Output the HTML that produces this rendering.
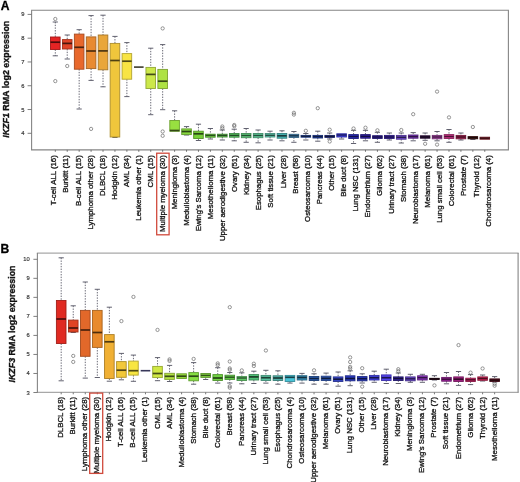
<!DOCTYPE html>
<html><head><meta charset="utf-8"><title>IKZF1 / IKZF3 expression</title>
<style>
html,body{margin:0;padding:0;background:#fff;width:520px;height:482px;overflow:hidden;}
body{font-family:"Liberation Sans", sans-serif;}
svg{display:block;filter:blur(0.45px);}
</style></head>
<body>
<svg width="520" height="482" viewBox="0 0 520 482" font-family="'Liberation Sans', sans-serif">
<rect width="520" height="482" fill="#fff"/>
<line x1="55.30" y1="22.00" x2="55.30" y2="37.00" stroke="#5a5a68" stroke-width="0.9" stroke-dasharray="1.4,1.3"/>
<line x1="52.70" y1="22.00" x2="57.90" y2="22.00" stroke="#5a5a68" stroke-width="0.95"/>
<line x1="55.30" y1="49.50" x2="55.30" y2="55.80" stroke="#5a5a68" stroke-width="0.9" stroke-dasharray="1.4,1.3"/>
<line x1="52.70" y1="55.80" x2="57.90" y2="55.80" stroke="#5a5a68" stroke-width="0.95"/>
<rect x="50.50" y="37.00" width="9.60" height="12.50" fill="#e42424" stroke="#a41919" stroke-width="0.9"/>
<line x1="50.50" y1="42.20" x2="60.10" y2="42.20" stroke="#4b0b0b" stroke-width="1.7"/>
<circle cx="55.30" cy="19.00" r="1.65" fill="none" stroke="#6a6a6a" stroke-width="0.7"/>
<circle cx="55.30" cy="81.10" r="1.65" fill="none" stroke="#6a6a6a" stroke-width="0.7"/>
<line x1="67.23" y1="35.00" x2="67.23" y2="39.60" stroke="#5a5a68" stroke-width="0.9" stroke-dasharray="1.4,1.3"/>
<line x1="64.63" y1="35.00" x2="69.83" y2="35.00" stroke="#5a5a68" stroke-width="0.95"/>
<line x1="67.23" y1="49.00" x2="67.23" y2="59.00" stroke="#5a5a68" stroke-width="0.9" stroke-dasharray="1.4,1.3"/>
<line x1="64.63" y1="59.00" x2="69.83" y2="59.00" stroke="#5a5a68" stroke-width="0.95"/>
<rect x="62.43" y="39.60" width="9.60" height="9.40" fill="#e04428" stroke="#a1301c" stroke-width="0.9"/>
<line x1="62.43" y1="43.40" x2="72.03" y2="43.40" stroke="#49160d" stroke-width="1.7"/>
<circle cx="67.23" cy="66.00" r="1.65" fill="none" stroke="#6a6a6a" stroke-width="0.7"/>
<line x1="79.16" y1="29.70" x2="79.16" y2="34.10" stroke="#5a5a68" stroke-width="0.9" stroke-dasharray="1.4,1.3"/>
<line x1="76.56" y1="29.70" x2="81.76" y2="29.70" stroke="#5a5a68" stroke-width="0.95"/>
<line x1="79.16" y1="69.20" x2="79.16" y2="109.00" stroke="#5a5a68" stroke-width="0.9" stroke-dasharray="1.4,1.3"/>
<line x1="76.56" y1="109.00" x2="81.76" y2="109.00" stroke="#5a5a68" stroke-width="0.95"/>
<rect x="74.36" y="34.10" width="9.60" height="35.10" fill="#e8682c" stroke="#a74a1f" stroke-width="0.9"/>
<line x1="74.36" y1="47.30" x2="83.96" y2="47.30" stroke="#4c220e" stroke-width="1.7"/>
<line x1="91.09" y1="15.60" x2="91.09" y2="36.90" stroke="#5a5a68" stroke-width="0.9" stroke-dasharray="1.4,1.3"/>
<line x1="88.49" y1="15.60" x2="93.69" y2="15.60" stroke="#5a5a68" stroke-width="0.95"/>
<line x1="91.09" y1="68.60" x2="91.09" y2="80.40" stroke="#5a5a68" stroke-width="0.9" stroke-dasharray="1.4,1.3"/>
<line x1="88.49" y1="80.40" x2="93.69" y2="80.40" stroke="#5a5a68" stroke-width="0.95"/>
<rect x="86.29" y="36.90" width="9.60" height="31.70" fill="#e88a32" stroke="#a76324" stroke-width="0.9"/>
<line x1="86.29" y1="51.00" x2="95.89" y2="51.00" stroke="#4c2d10" stroke-width="1.7"/>
<circle cx="91.09" cy="128.90" r="1.65" fill="none" stroke="#6a6a6a" stroke-width="0.7"/>
<line x1="103.02" y1="15.20" x2="103.02" y2="35.00" stroke="#5a5a68" stroke-width="0.9" stroke-dasharray="1.4,1.3"/>
<line x1="100.42" y1="15.20" x2="105.62" y2="15.20" stroke="#5a5a68" stroke-width="0.95"/>
<line x1="103.02" y1="69.80" x2="103.02" y2="86.80" stroke="#5a5a68" stroke-width="0.9" stroke-dasharray="1.4,1.3"/>
<line x1="100.42" y1="86.80" x2="105.62" y2="86.80" stroke="#5a5a68" stroke-width="0.95"/>
<rect x="98.22" y="35.00" width="9.60" height="34.80" fill="#e9a63a" stroke="#a77729" stroke-width="0.9"/>
<line x1="98.22" y1="50.90" x2="107.82" y2="50.90" stroke="#4c3613" stroke-width="1.7"/>
<line x1="114.95" y1="36.40" x2="114.95" y2="43.40" stroke="#5a5a68" stroke-width="0.9" stroke-dasharray="1.4,1.3"/>
<line x1="112.35" y1="36.40" x2="117.55" y2="36.40" stroke="#5a5a68" stroke-width="0.95"/>
<line x1="114.95" y1="137.00" x2="114.95" y2="137.50" stroke="#5a5a68" stroke-width="0.9" stroke-dasharray="1.4,1.3"/>
<line x1="112.35" y1="137.50" x2="117.55" y2="137.50" stroke="#5a5a68" stroke-width="0.95"/>
<rect x="110.15" y="43.40" width="9.60" height="93.60" fill="#f0c63c" stroke="#ac8e2b" stroke-width="0.9"/>
<line x1="110.15" y1="60.50" x2="119.75" y2="60.50" stroke="#4f4113" stroke-width="1.7"/>
<line x1="126.88" y1="42.60" x2="126.88" y2="53.60" stroke="#5a5a68" stroke-width="0.9" stroke-dasharray="1.4,1.3"/>
<line x1="124.28" y1="42.60" x2="129.48" y2="42.60" stroke="#5a5a68" stroke-width="0.95"/>
<line x1="126.88" y1="79.20" x2="126.88" y2="96.60" stroke="#5a5a68" stroke-width="0.9" stroke-dasharray="1.4,1.3"/>
<line x1="124.28" y1="96.60" x2="129.48" y2="96.60" stroke="#5a5a68" stroke-width="0.95"/>
<rect x="122.08" y="53.60" width="9.60" height="25.60" fill="#f8e444" stroke="#b2a430" stroke-width="0.9"/>
<line x1="122.08" y1="61.20" x2="131.68" y2="61.20" stroke="#514b16" stroke-width="1.7"/>
<line x1="134.01" y1="67.10" x2="143.61" y2="67.10" stroke="#3c3a2c" stroke-width="1.6"/>
<line x1="150.74" y1="48.20" x2="150.74" y2="67.40" stroke="#5a5a68" stroke-width="0.9" stroke-dasharray="1.4,1.3"/>
<line x1="148.14" y1="48.20" x2="153.34" y2="48.20" stroke="#5a5a68" stroke-width="0.95"/>
<line x1="150.74" y1="88.50" x2="150.74" y2="114.70" stroke="#5a5a68" stroke-width="0.9" stroke-dasharray="1.4,1.3"/>
<line x1="148.14" y1="114.70" x2="153.34" y2="114.70" stroke="#5a5a68" stroke-width="0.95"/>
<rect x="145.94" y="67.40" width="9.60" height="21.10" fill="#cce84a" stroke="#92a735" stroke-width="0.9"/>
<line x1="145.94" y1="74.40" x2="155.54" y2="74.40" stroke="#434c18" stroke-width="1.7"/>
<line x1="162.67" y1="44.60" x2="162.67" y2="69.40" stroke="#5a5a68" stroke-width="0.9" stroke-dasharray="1.4,1.3"/>
<line x1="160.07" y1="44.60" x2="165.27" y2="44.60" stroke="#5a5a68" stroke-width="0.95"/>
<line x1="162.67" y1="88.50" x2="162.67" y2="109.70" stroke="#5a5a68" stroke-width="0.9" stroke-dasharray="1.4,1.3"/>
<line x1="160.07" y1="109.70" x2="165.27" y2="109.70" stroke="#5a5a68" stroke-width="0.95"/>
<rect x="157.87" y="69.40" width="9.60" height="19.10" fill="#aee244" stroke="#7da230" stroke-width="0.9"/>
<line x1="157.87" y1="81.20" x2="167.47" y2="81.20" stroke="#394a16" stroke-width="1.7"/>
<circle cx="162.67" cy="28.40" r="1.65" fill="none" stroke="#6a6a6a" stroke-width="0.7"/>
<circle cx="162.67" cy="131.50" r="1.65" fill="none" stroke="#6a6a6a" stroke-width="0.7"/>
<circle cx="162.67" cy="135.80" r="1.65" fill="none" stroke="#6a6a6a" stroke-width="0.7"/>
<line x1="174.60" y1="110.80" x2="174.60" y2="120.50" stroke="#5a5a68" stroke-width="0.9" stroke-dasharray="1.4,1.3"/>
<line x1="172.00" y1="110.80" x2="177.20" y2="110.80" stroke="#5a5a68" stroke-width="0.95"/>
<rect x="169.80" y="120.50" width="9.60" height="10.70" fill="#98e040" stroke="#6da12e" stroke-width="0.9"/>
<line x1="169.80" y1="130.50" x2="179.40" y2="130.50" stroke="#324915" stroke-width="1.7"/>
<line x1="186.53" y1="126.60" x2="186.53" y2="128.90" stroke="#5a5a68" stroke-width="0.9" stroke-dasharray="1.4,1.3"/>
<line x1="183.93" y1="126.60" x2="189.13" y2="126.60" stroke="#5a5a68" stroke-width="0.95"/>
<line x1="186.53" y1="134.60" x2="186.53" y2="135.00" stroke="#5a5a68" stroke-width="0.9" stroke-dasharray="1.4,1.3"/>
<line x1="183.93" y1="135.00" x2="189.13" y2="135.00" stroke="#5a5a68" stroke-width="0.95"/>
<rect x="181.73" y="128.90" width="9.60" height="5.70" fill="#88d840" stroke="#619b2e" stroke-width="0.9"/>
<line x1="181.73" y1="131.50" x2="191.33" y2="131.50" stroke="#2c4715" stroke-width="1.7"/>
<line x1="198.46" y1="124.20" x2="198.46" y2="131.20" stroke="#5a5a68" stroke-width="0.9" stroke-dasharray="1.4,1.3"/>
<line x1="195.86" y1="124.20" x2="201.06" y2="124.20" stroke="#5a5a68" stroke-width="0.95"/>
<line x1="198.46" y1="138.50" x2="198.46" y2="140.50" stroke="#5a5a68" stroke-width="0.9" stroke-dasharray="1.4,1.3"/>
<line x1="195.86" y1="140.50" x2="201.06" y2="140.50" stroke="#5a5a68" stroke-width="0.95"/>
<rect x="193.66" y="131.20" width="9.60" height="7.30" fill="#78d03a" stroke="#569529" stroke-width="0.9"/>
<line x1="193.66" y1="133.80" x2="203.26" y2="133.80" stroke="#274413" stroke-width="1.7"/>
<line x1="210.39" y1="128.50" x2="210.39" y2="134.20" stroke="#5a5a68" stroke-width="0.9" stroke-dasharray="1.4,1.3"/>
<line x1="207.79" y1="128.50" x2="212.99" y2="128.50" stroke="#5a5a68" stroke-width="0.95"/>
<line x1="210.39" y1="137.20" x2="210.39" y2="139.00" stroke="#5a5a68" stroke-width="0.9" stroke-dasharray="1.4,1.3"/>
<line x1="207.79" y1="139.00" x2="212.99" y2="139.00" stroke="#5a5a68" stroke-width="0.95"/>
<rect x="205.59" y="134.20" width="9.60" height="3.00" fill="#68c842" stroke="#4a902f" stroke-width="0.9"/>
<line x1="205.59" y1="135.40" x2="215.19" y2="135.40" stroke="#29501a" stroke-width="1.35"/>
<line x1="222.32" y1="130.00" x2="222.32" y2="134.20" stroke="#5a5a68" stroke-width="0.9" stroke-dasharray="1.4,1.3"/>
<line x1="219.72" y1="130.00" x2="224.92" y2="130.00" stroke="#5a5a68" stroke-width="0.95"/>
<line x1="222.32" y1="137.00" x2="222.32" y2="140.00" stroke="#5a5a68" stroke-width="0.9" stroke-dasharray="1.4,1.3"/>
<line x1="219.72" y1="140.00" x2="224.92" y2="140.00" stroke="#5a5a68" stroke-width="0.95"/>
<rect x="217.52" y="134.20" width="9.60" height="2.80" fill="#60c050" stroke="#458a39" stroke-width="0.9"/>
<line x1="217.52" y1="135.40" x2="227.12" y2="135.40" stroke="#264c20" stroke-width="1.35"/>
<circle cx="222.32" cy="126.50" r="1.65" fill="none" stroke="#6a6a6a" stroke-width="0.7"/>
<circle cx="222.32" cy="128.20" r="1.65" fill="none" stroke="#6a6a6a" stroke-width="0.7"/>
<line x1="234.25" y1="129.20" x2="234.25" y2="133.50" stroke="#5a5a68" stroke-width="0.9" stroke-dasharray="1.4,1.3"/>
<line x1="231.65" y1="129.20" x2="236.85" y2="129.20" stroke="#5a5a68" stroke-width="0.95"/>
<line x1="234.25" y1="137.20" x2="234.25" y2="140.80" stroke="#5a5a68" stroke-width="0.9" stroke-dasharray="1.4,1.3"/>
<line x1="231.65" y1="140.80" x2="236.85" y2="140.80" stroke="#5a5a68" stroke-width="0.95"/>
<rect x="229.45" y="133.50" width="9.60" height="3.70" fill="#58c060" stroke="#3f8a45" stroke-width="0.9"/>
<line x1="229.45" y1="135.40" x2="239.05" y2="135.40" stroke="#234c26" stroke-width="1.35"/>
<circle cx="234.25" cy="125.00" r="1.65" fill="none" stroke="#6a6a6a" stroke-width="0.7"/>
<circle cx="234.25" cy="126.20" r="1.65" fill="none" stroke="#6a6a6a" stroke-width="0.7"/>
<line x1="246.18" y1="128.50" x2="246.18" y2="133.50" stroke="#5a5a68" stroke-width="0.9" stroke-dasharray="1.4,1.3"/>
<line x1="243.58" y1="128.50" x2="248.78" y2="128.50" stroke="#5a5a68" stroke-width="0.95"/>
<line x1="246.18" y1="137.70" x2="246.18" y2="142.30" stroke="#5a5a68" stroke-width="0.9" stroke-dasharray="1.4,1.3"/>
<line x1="243.58" y1="142.30" x2="248.78" y2="142.30" stroke="#5a5a68" stroke-width="0.95"/>
<rect x="241.38" y="133.50" width="9.60" height="4.20" fill="#5cc478" stroke="#428d56" stroke-width="0.9"/>
<line x1="241.38" y1="135.50" x2="250.98" y2="135.50" stroke="#244e30" stroke-width="1.35"/>
<line x1="258.11" y1="130.00" x2="258.11" y2="133.50" stroke="#5a5a68" stroke-width="0.9" stroke-dasharray="1.4,1.3"/>
<line x1="255.51" y1="130.00" x2="260.71" y2="130.00" stroke="#5a5a68" stroke-width="0.95"/>
<line x1="258.11" y1="137.70" x2="258.11" y2="142.80" stroke="#5a5a68" stroke-width="0.9" stroke-dasharray="1.4,1.3"/>
<line x1="255.51" y1="142.80" x2="260.71" y2="142.80" stroke="#5a5a68" stroke-width="0.95"/>
<rect x="253.31" y="133.50" width="9.60" height="4.20" fill="#5cc494" stroke="#428d6a" stroke-width="0.9"/>
<line x1="253.31" y1="135.50" x2="262.91" y2="135.50" stroke="#244e3b" stroke-width="1.35"/>
<line x1="270.04" y1="131.20" x2="270.04" y2="133.50" stroke="#5a5a68" stroke-width="0.9" stroke-dasharray="1.4,1.3"/>
<line x1="267.44" y1="131.20" x2="272.64" y2="131.20" stroke="#5a5a68" stroke-width="0.95"/>
<line x1="270.04" y1="137.00" x2="270.04" y2="140.00" stroke="#5a5a68" stroke-width="0.9" stroke-dasharray="1.4,1.3"/>
<line x1="267.44" y1="140.00" x2="272.64" y2="140.00" stroke="#5a5a68" stroke-width="0.95"/>
<rect x="265.24" y="133.50" width="9.60" height="3.50" fill="#5cc4aa" stroke="#428d7a" stroke-width="0.9"/>
<line x1="265.24" y1="135.30" x2="274.84" y2="135.30" stroke="#244e44" stroke-width="1.35"/>
<line x1="281.97" y1="130.80" x2="281.97" y2="133.50" stroke="#5a5a68" stroke-width="0.9" stroke-dasharray="1.4,1.3"/>
<line x1="279.37" y1="130.80" x2="284.57" y2="130.80" stroke="#5a5a68" stroke-width="0.95"/>
<line x1="281.97" y1="138.20" x2="281.97" y2="140.80" stroke="#5a5a68" stroke-width="0.9" stroke-dasharray="1.4,1.3"/>
<line x1="279.37" y1="140.80" x2="284.57" y2="140.80" stroke="#5a5a68" stroke-width="0.95"/>
<rect x="277.17" y="133.50" width="9.60" height="4.70" fill="#48b4b4" stroke="#338181" stroke-width="0.9"/>
<line x1="277.17" y1="135.80" x2="286.77" y2="135.80" stroke="#173b3b" stroke-width="1.7"/>
<line x1="293.90" y1="131.50" x2="293.90" y2="134.30" stroke="#5a5a68" stroke-width="0.9" stroke-dasharray="1.4,1.3"/>
<line x1="291.30" y1="131.50" x2="296.50" y2="131.50" stroke="#5a5a68" stroke-width="0.95"/>
<line x1="293.90" y1="137.40" x2="293.90" y2="142.30" stroke="#5a5a68" stroke-width="0.9" stroke-dasharray="1.4,1.3"/>
<line x1="291.30" y1="142.30" x2="296.50" y2="142.30" stroke="#5a5a68" stroke-width="0.95"/>
<rect x="289.10" y="134.30" width="9.60" height="3.10" fill="#4080b0" stroke="#2e5c7e" stroke-width="0.9"/>
<line x1="289.10" y1="135.80" x2="298.70" y2="135.80" stroke="#193346" stroke-width="1.35"/>
<circle cx="293.90" cy="112.80" r="1.65" fill="none" stroke="#6a6a6a" stroke-width="0.7"/>
<circle cx="293.90" cy="114.60" r="1.65" fill="none" stroke="#6a6a6a" stroke-width="0.7"/>
<line x1="305.83" y1="133.50" x2="305.83" y2="135.40" stroke="#5a5a68" stroke-width="0.9" stroke-dasharray="1.4,1.3"/>
<line x1="303.23" y1="133.50" x2="308.43" y2="133.50" stroke="#5a5a68" stroke-width="0.95"/>
<line x1="305.83" y1="137.20" x2="305.83" y2="140.00" stroke="#5a5a68" stroke-width="0.9" stroke-dasharray="1.4,1.3"/>
<line x1="303.23" y1="140.00" x2="308.43" y2="140.00" stroke="#5a5a68" stroke-width="0.95"/>
<rect x="301.03" y="135.40" width="9.60" height="1.80" fill="#2c50b0" stroke="#1f397e" stroke-width="0.9"/>
<line x1="301.03" y1="136.30" x2="310.63" y2="136.30" stroke="#112046" stroke-width="1.35"/>
<circle cx="305.83" cy="130.80" r="1.65" fill="none" stroke="#6a6a6a" stroke-width="0.7"/>
<line x1="317.76" y1="131.20" x2="317.76" y2="135.40" stroke="#5a5a68" stroke-width="0.9" stroke-dasharray="1.4,1.3"/>
<line x1="315.16" y1="131.20" x2="320.36" y2="131.20" stroke="#5a5a68" stroke-width="0.95"/>
<line x1="317.76" y1="138.00" x2="317.76" y2="141.20" stroke="#5a5a68" stroke-width="0.9" stroke-dasharray="1.4,1.3"/>
<line x1="315.16" y1="141.20" x2="320.36" y2="141.20" stroke="#5a5a68" stroke-width="0.95"/>
<rect x="312.96" y="135.40" width="9.60" height="2.60" fill="#2444a8" stroke="#193078" stroke-width="0.9"/>
<line x1="312.96" y1="136.60" x2="322.56" y2="136.60" stroke="#0e1b43" stroke-width="1.35"/>
<circle cx="317.76" cy="108.20" r="1.65" fill="none" stroke="#6a6a6a" stroke-width="0.7"/>
<line x1="329.69" y1="133.00" x2="329.69" y2="135.40" stroke="#5a5a68" stroke-width="0.9" stroke-dasharray="1.4,1.3"/>
<line x1="327.09" y1="133.00" x2="332.29" y2="133.00" stroke="#5a5a68" stroke-width="0.95"/>
<line x1="329.69" y1="137.40" x2="329.69" y2="139.00" stroke="#5a5a68" stroke-width="0.9" stroke-dasharray="1.4,1.3"/>
<line x1="327.09" y1="139.00" x2="332.29" y2="139.00" stroke="#5a5a68" stroke-width="0.95"/>
<rect x="324.89" y="135.40" width="9.60" height="2.00" fill="#263498" stroke="#1b256d" stroke-width="0.9"/>
<line x1="324.89" y1="136.40" x2="334.49" y2="136.40" stroke="#0f143c" stroke-width="1.35"/>
<circle cx="329.69" cy="129.70" r="1.65" fill="none" stroke="#6a6a6a" stroke-width="0.7"/>
<circle cx="329.69" cy="141.50" r="1.65" fill="none" stroke="#6a6a6a" stroke-width="0.7"/>
<line x1="341.62" y1="137.00" x2="341.62" y2="139.00" stroke="#5a5a68" stroke-width="0.9" stroke-dasharray="1.4,1.3"/>
<line x1="339.02" y1="139.00" x2="344.22" y2="139.00" stroke="#5a5a68" stroke-width="0.95"/>
<rect x="336.82" y="133.80" width="9.60" height="3.20" fill="#4040e0" stroke="#2e2ea1" stroke-width="0.9"/>
<line x1="336.82" y1="135.00" x2="346.42" y2="135.00" stroke="#191959" stroke-width="1.35"/>
<line x1="353.55" y1="130.30" x2="353.55" y2="134.60" stroke="#5a5a68" stroke-width="0.9" stroke-dasharray="1.4,1.3"/>
<line x1="350.95" y1="130.30" x2="356.15" y2="130.30" stroke="#5a5a68" stroke-width="0.95"/>
<line x1="353.55" y1="138.50" x2="353.55" y2="143.50" stroke="#5a5a68" stroke-width="0.9" stroke-dasharray="1.4,1.3"/>
<line x1="350.95" y1="143.50" x2="356.15" y2="143.50" stroke="#5a5a68" stroke-width="0.95"/>
<rect x="348.75" y="134.60" width="9.60" height="3.90" fill="#2a2ab4" stroke="#1e1e81" stroke-width="0.9"/>
<line x1="348.75" y1="136.50" x2="358.35" y2="136.50" stroke="#101048" stroke-width="1.35"/>
<circle cx="353.55" cy="128.50" r="1.65" fill="none" stroke="#6a6a6a" stroke-width="0.7"/>
<line x1="365.48" y1="130.30" x2="365.48" y2="134.60" stroke="#5a5a68" stroke-width="0.9" stroke-dasharray="1.4,1.3"/>
<line x1="362.88" y1="130.30" x2="368.08" y2="130.30" stroke="#5a5a68" stroke-width="0.95"/>
<line x1="365.48" y1="138.20" x2="365.48" y2="140.80" stroke="#5a5a68" stroke-width="0.9" stroke-dasharray="1.4,1.3"/>
<line x1="362.88" y1="140.80" x2="368.08" y2="140.80" stroke="#5a5a68" stroke-width="0.95"/>
<rect x="360.68" y="134.60" width="9.60" height="3.60" fill="#3222a4" stroke="#241876" stroke-width="0.9"/>
<line x1="360.68" y1="136.40" x2="370.28" y2="136.40" stroke="#140d41" stroke-width="1.35"/>
<circle cx="365.48" cy="127.70" r="1.65" fill="none" stroke="#6a6a6a" stroke-width="0.7"/>
<line x1="377.41" y1="132.30" x2="377.41" y2="135.70" stroke="#5a5a68" stroke-width="0.9" stroke-dasharray="1.4,1.3"/>
<line x1="374.81" y1="132.30" x2="380.01" y2="132.30" stroke="#5a5a68" stroke-width="0.95"/>
<line x1="377.41" y1="138.50" x2="377.41" y2="142.30" stroke="#5a5a68" stroke-width="0.9" stroke-dasharray="1.4,1.3"/>
<line x1="374.81" y1="142.30" x2="380.01" y2="142.30" stroke="#5a5a68" stroke-width="0.95"/>
<rect x="372.61" y="135.70" width="9.60" height="2.80" fill="#3222a0" stroke="#241873" stroke-width="0.9"/>
<line x1="372.61" y1="137.00" x2="382.21" y2="137.00" stroke="#140d40" stroke-width="1.35"/>
<circle cx="377.41" cy="130.30" r="1.65" fill="none" stroke="#6a6a6a" stroke-width="0.7"/>
<line x1="389.34" y1="133.00" x2="389.34" y2="135.40" stroke="#5a5a68" stroke-width="0.9" stroke-dasharray="1.4,1.3"/>
<line x1="386.74" y1="133.00" x2="391.94" y2="133.00" stroke="#5a5a68" stroke-width="0.95"/>
<line x1="389.34" y1="138.50" x2="389.34" y2="140.00" stroke="#5a5a68" stroke-width="0.9" stroke-dasharray="1.4,1.3"/>
<line x1="386.74" y1="140.00" x2="391.94" y2="140.00" stroke="#5a5a68" stroke-width="0.95"/>
<rect x="384.54" y="135.40" width="9.60" height="3.10" fill="#3a24a8" stroke="#291978" stroke-width="0.9"/>
<line x1="384.54" y1="137.00" x2="394.14" y2="137.00" stroke="#170e43" stroke-width="1.35"/>
<line x1="401.27" y1="133.00" x2="401.27" y2="135.40" stroke="#5a5a68" stroke-width="0.9" stroke-dasharray="1.4,1.3"/>
<line x1="398.67" y1="133.00" x2="403.87" y2="133.00" stroke="#5a5a68" stroke-width="0.95"/>
<line x1="401.27" y1="139.20" x2="401.27" y2="143.00" stroke="#5a5a68" stroke-width="0.9" stroke-dasharray="1.4,1.3"/>
<line x1="398.67" y1="143.00" x2="403.87" y2="143.00" stroke="#5a5a68" stroke-width="0.95"/>
<rect x="396.47" y="135.40" width="9.60" height="3.80" fill="#6a46c6" stroke="#4c328e" stroke-width="0.9"/>
<line x1="396.47" y1="137.30" x2="406.07" y2="137.30" stroke="#2a1c4f" stroke-width="1.35"/>
<circle cx="401.27" cy="130.00" r="1.65" fill="none" stroke="#6a6a6a" stroke-width="0.7"/>
<line x1="413.20" y1="132.60" x2="413.20" y2="135.00" stroke="#5a5a68" stroke-width="0.9" stroke-dasharray="1.4,1.3"/>
<line x1="410.60" y1="132.60" x2="415.80" y2="132.60" stroke="#5a5a68" stroke-width="0.95"/>
<line x1="413.20" y1="138.20" x2="413.20" y2="140.80" stroke="#5a5a68" stroke-width="0.9" stroke-dasharray="1.4,1.3"/>
<line x1="410.60" y1="140.80" x2="415.80" y2="140.80" stroke="#5a5a68" stroke-width="0.95"/>
<rect x="408.40" y="135.00" width="9.60" height="3.20" fill="#7432b0" stroke="#53247e" stroke-width="0.9"/>
<line x1="408.40" y1="136.60" x2="418.00" y2="136.60" stroke="#2e1446" stroke-width="1.35"/>
<circle cx="413.20" cy="114.20" r="1.65" fill="none" stroke="#6a6a6a" stroke-width="0.7"/>
<line x1="425.13" y1="133.00" x2="425.13" y2="135.80" stroke="#5a5a68" stroke-width="0.9" stroke-dasharray="1.4,1.3"/>
<line x1="422.53" y1="133.00" x2="427.73" y2="133.00" stroke="#5a5a68" stroke-width="0.95"/>
<line x1="425.13" y1="138.20" x2="425.13" y2="140.30" stroke="#5a5a68" stroke-width="0.9" stroke-dasharray="1.4,1.3"/>
<line x1="422.53" y1="140.30" x2="427.73" y2="140.30" stroke="#5a5a68" stroke-width="0.95"/>
<rect x="420.33" y="135.80" width="9.60" height="2.40" fill="#341244" stroke="#250c30" stroke-width="0.9"/>
<line x1="420.33" y1="137.00" x2="429.93" y2="137.00" stroke="#14071b" stroke-width="1.35"/>
<circle cx="425.13" cy="143.80" r="1.65" fill="none" stroke="#6a6a6a" stroke-width="0.7"/>
<line x1="437.06" y1="131.50" x2="437.06" y2="135.40" stroke="#5a5a68" stroke-width="0.9" stroke-dasharray="1.4,1.3"/>
<line x1="434.46" y1="131.50" x2="439.66" y2="131.50" stroke="#5a5a68" stroke-width="0.95"/>
<line x1="437.06" y1="138.80" x2="437.06" y2="140.80" stroke="#5a5a68" stroke-width="0.9" stroke-dasharray="1.4,1.3"/>
<line x1="434.46" y1="140.80" x2="439.66" y2="140.80" stroke="#5a5a68" stroke-width="0.95"/>
<rect x="432.26" y="135.40" width="9.60" height="3.40" fill="#a040a0" stroke="#732e73" stroke-width="0.9"/>
<line x1="432.26" y1="137.00" x2="441.86" y2="137.00" stroke="#401940" stroke-width="1.35"/>
<circle cx="437.06" cy="91.60" r="1.65" fill="none" stroke="#6a6a6a" stroke-width="0.7"/>
<circle cx="437.06" cy="144.60" r="1.65" fill="none" stroke="#6a6a6a" stroke-width="0.7"/>
<line x1="448.99" y1="129.50" x2="448.99" y2="134.60" stroke="#5a5a68" stroke-width="0.9" stroke-dasharray="1.4,1.3"/>
<line x1="446.39" y1="129.50" x2="451.59" y2="129.50" stroke="#5a5a68" stroke-width="0.95"/>
<line x1="448.99" y1="138.50" x2="448.99" y2="142.30" stroke="#5a5a68" stroke-width="0.9" stroke-dasharray="1.4,1.3"/>
<line x1="446.39" y1="142.30" x2="451.59" y2="142.30" stroke="#5a5a68" stroke-width="0.95"/>
<rect x="444.19" y="134.60" width="9.60" height="3.90" fill="#c03080" stroke="#8a225c" stroke-width="0.9"/>
<line x1="444.19" y1="136.50" x2="453.79" y2="136.50" stroke="#4c1333" stroke-width="1.35"/>
<circle cx="448.99" cy="117.40" r="1.65" fill="none" stroke="#6a6a6a" stroke-width="0.7"/>
<line x1="460.92" y1="133.00" x2="460.92" y2="135.40" stroke="#5a5a68" stroke-width="0.9" stroke-dasharray="1.4,1.3"/>
<line x1="458.32" y1="133.00" x2="463.52" y2="133.00" stroke="#5a5a68" stroke-width="0.95"/>
<line x1="460.92" y1="138.80" x2="460.92" y2="140.00" stroke="#5a5a68" stroke-width="0.9" stroke-dasharray="1.4,1.3"/>
<line x1="458.32" y1="140.00" x2="463.52" y2="140.00" stroke="#5a5a68" stroke-width="0.95"/>
<rect x="456.12" y="135.40" width="9.60" height="3.40" fill="#a02050" stroke="#731739" stroke-width="0.9"/>
<line x1="456.12" y1="137.00" x2="465.72" y2="137.00" stroke="#400c20" stroke-width="1.35"/>
<line x1="472.85" y1="138.80" x2="472.85" y2="139.50" stroke="#5a5a68" stroke-width="0.9" stroke-dasharray="1.4,1.3"/>
<line x1="470.25" y1="139.50" x2="475.45" y2="139.50" stroke="#5a5a68" stroke-width="0.95"/>
<rect x="468.05" y="136.60" width="9.60" height="2.20" fill="#441212" stroke="#300c0c" stroke-width="0.9"/>
<line x1="468.05" y1="137.70" x2="477.65" y2="137.70" stroke="#1b0707" stroke-width="1.35"/>
<circle cx="472.85" cy="127.00" r="1.65" fill="none" stroke="#6a6a6a" stroke-width="0.7"/>
<rect x="479.98" y="137.20" width="9.60" height="2.00" fill="#8c2430" stroke="#641922" stroke-width="0.9"/>
<line x1="479.98" y1="138.20" x2="489.58" y2="138.20" stroke="#380e13" stroke-width="1.35"/>
<line x1="31.05" y1="10.2" x2="508.95" y2="10.2" stroke="#858585" stroke-width="1.1"/>
<line x1="31.05" y1="149.9" x2="508.95" y2="149.9" stroke="#858585" stroke-width="1.1"/>
<line x1="31.6" y1="10.2" x2="31.6" y2="149.9" stroke="#858585" stroke-width="1.1"/>
<line x1="508.4" y1="10.2" x2="508.4" y2="149.9" stroke="#858585" stroke-width="1.1"/>
<line x1="27.60" y1="133.30" x2="31.60" y2="133.30" stroke="#707070" stroke-width="0.9"/>
<text x="24.60" y="133.30" font-size="5.8" text-anchor="end" dominant-baseline="central" fill="#333" stroke="#333" stroke-width="0.15">4</text>
<line x1="27.60" y1="109.52" x2="31.60" y2="109.52" stroke="#707070" stroke-width="0.9"/>
<text x="24.60" y="109.52" font-size="5.8" text-anchor="end" dominant-baseline="central" fill="#333" stroke="#333" stroke-width="0.15">5</text>
<line x1="27.60" y1="85.74" x2="31.60" y2="85.74" stroke="#707070" stroke-width="0.9"/>
<text x="24.60" y="85.74" font-size="5.8" text-anchor="end" dominant-baseline="central" fill="#333" stroke="#333" stroke-width="0.15">6</text>
<line x1="27.60" y1="61.96" x2="31.60" y2="61.96" stroke="#707070" stroke-width="0.9"/>
<text x="24.60" y="61.96" font-size="5.8" text-anchor="end" dominant-baseline="central" fill="#333" stroke="#333" stroke-width="0.15">7</text>
<line x1="27.60" y1="38.18" x2="31.60" y2="38.18" stroke="#707070" stroke-width="0.9"/>
<text x="24.60" y="38.18" font-size="5.8" text-anchor="end" dominant-baseline="central" fill="#333" stroke="#333" stroke-width="0.15">8</text>
<line x1="27.60" y1="14.40" x2="31.60" y2="14.40" stroke="#707070" stroke-width="0.9"/>
<text x="24.60" y="14.40" font-size="5.8" text-anchor="end" dominant-baseline="central" fill="#333" stroke="#333" stroke-width="0.15">9</text>
<line x1="55.30" y1="149.90" x2="55.30" y2="151.80" stroke="#666" stroke-width="0.9"/>
<text transform="translate(53.90,155.20) rotate(-90)" font-size="7.8" text-anchor="end" dominant-baseline="central" fill="#111" stroke="#111" stroke-width="0.3">T-cell ALL (16)</text>
<line x1="67.23" y1="149.90" x2="67.23" y2="151.80" stroke="#666" stroke-width="0.9"/>
<text transform="translate(65.96,155.20) rotate(-90)" font-size="7.8" text-anchor="end" dominant-baseline="central" fill="#111" stroke="#111" stroke-width="0.3">Burkitt (11)</text>
<line x1="79.16" y1="149.90" x2="79.16" y2="151.80" stroke="#666" stroke-width="0.9"/>
<text transform="translate(78.02,155.20) rotate(-90)" font-size="7.8" text-anchor="end" dominant-baseline="central" fill="#111" stroke="#111" stroke-width="0.3">B-cell ALL (15)</text>
<line x1="91.09" y1="149.90" x2="91.09" y2="151.80" stroke="#666" stroke-width="0.9"/>
<text transform="translate(90.08,155.20) rotate(-90)" font-size="7.8" text-anchor="end" dominant-baseline="central" fill="#111" stroke="#111" stroke-width="0.3">Lymphoma other (28)</text>
<line x1="103.02" y1="149.90" x2="103.02" y2="151.80" stroke="#666" stroke-width="0.9"/>
<text transform="translate(102.14,155.20) rotate(-90)" font-size="7.8" text-anchor="end" dominant-baseline="central" fill="#111" stroke="#111" stroke-width="0.3">DLBCL (18)</text>
<line x1="114.95" y1="149.90" x2="114.95" y2="151.80" stroke="#666" stroke-width="0.9"/>
<text transform="translate(114.20,155.20) rotate(-90)" font-size="7.8" text-anchor="end" dominant-baseline="central" fill="#111" stroke="#111" stroke-width="0.3">Hodgkin (12)</text>
<line x1="126.88" y1="149.90" x2="126.88" y2="151.80" stroke="#666" stroke-width="0.9"/>
<text transform="translate(126.26,155.20) rotate(-90)" font-size="7.8" text-anchor="end" dominant-baseline="central" fill="#111" stroke="#111" stroke-width="0.3">AML (34)</text>
<line x1="138.81" y1="149.90" x2="138.81" y2="151.80" stroke="#666" stroke-width="0.9"/>
<text transform="translate(138.32,155.20) rotate(-90)" font-size="7.8" text-anchor="end" dominant-baseline="central" fill="#111" stroke="#111" stroke-width="0.3">Leukemia other (1)</text>
<line x1="150.74" y1="149.90" x2="150.74" y2="151.80" stroke="#666" stroke-width="0.9"/>
<text transform="translate(150.38,155.20) rotate(-90)" font-size="7.8" text-anchor="end" dominant-baseline="central" fill="#111" stroke="#111" stroke-width="0.3">CML (15)</text>
<line x1="162.67" y1="149.90" x2="162.67" y2="151.80" stroke="#666" stroke-width="0.9"/>
<text transform="translate(162.44,155.20) rotate(-90)" font-size="7.8" text-anchor="end" dominant-baseline="central" fill="#111" stroke="#111" stroke-width="0.3">Multiple myeloma (30)</text>
<line x1="174.60" y1="149.90" x2="174.60" y2="151.80" stroke="#666" stroke-width="0.9"/>
<text transform="translate(174.50,155.20) rotate(-90)" font-size="7.8" text-anchor="end" dominant-baseline="central" fill="#111" stroke="#111" stroke-width="0.3">Meningioma (3)</text>
<line x1="186.53" y1="149.90" x2="186.53" y2="151.80" stroke="#666" stroke-width="0.9"/>
<text transform="translate(186.56,155.20) rotate(-90)" font-size="7.8" text-anchor="end" dominant-baseline="central" fill="#111" stroke="#111" stroke-width="0.3">Medulloblastoma (4)</text>
<line x1="198.46" y1="149.90" x2="198.46" y2="151.80" stroke="#666" stroke-width="0.9"/>
<text transform="translate(198.62,155.20) rotate(-90)" font-size="7.8" text-anchor="end" dominant-baseline="central" fill="#111" stroke="#111" stroke-width="0.3">Ewing&#39;s Sarcoma (12)</text>
<line x1="210.39" y1="149.90" x2="210.39" y2="151.80" stroke="#666" stroke-width="0.9"/>
<text transform="translate(210.68,155.20) rotate(-90)" font-size="7.8" text-anchor="end" dominant-baseline="central" fill="#111" stroke="#111" stroke-width="0.3">Mesothelioma (11)</text>
<line x1="222.32" y1="149.90" x2="222.32" y2="151.80" stroke="#666" stroke-width="0.9"/>
<text transform="translate(222.74,155.20) rotate(-90)" font-size="7.8" text-anchor="end" dominant-baseline="central" fill="#111" stroke="#111" stroke-width="0.3">Upper aerodigestive (32)</text>
<line x1="234.25" y1="149.90" x2="234.25" y2="151.80" stroke="#666" stroke-width="0.9"/>
<text transform="translate(234.80,155.20) rotate(-90)" font-size="7.8" text-anchor="end" dominant-baseline="central" fill="#111" stroke="#111" stroke-width="0.3">Ovary (51)</text>
<line x1="246.18" y1="149.90" x2="246.18" y2="151.80" stroke="#666" stroke-width="0.9"/>
<text transform="translate(246.86,155.20) rotate(-90)" font-size="7.8" text-anchor="end" dominant-baseline="central" fill="#111" stroke="#111" stroke-width="0.3">Kidney (34)</text>
<line x1="258.11" y1="149.90" x2="258.11" y2="151.80" stroke="#666" stroke-width="0.9"/>
<text transform="translate(258.92,155.20) rotate(-90)" font-size="7.8" text-anchor="end" dominant-baseline="central" fill="#111" stroke="#111" stroke-width="0.3">Esophagus (25)</text>
<line x1="270.04" y1="149.90" x2="270.04" y2="151.80" stroke="#666" stroke-width="0.9"/>
<text transform="translate(270.98,155.20) rotate(-90)" font-size="7.8" text-anchor="end" dominant-baseline="central" fill="#111" stroke="#111" stroke-width="0.3">Soft tissue (21)</text>
<line x1="281.97" y1="149.90" x2="281.97" y2="151.80" stroke="#666" stroke-width="0.9"/>
<text transform="translate(283.04,155.20) rotate(-90)" font-size="7.8" text-anchor="end" dominant-baseline="central" fill="#111" stroke="#111" stroke-width="0.3">Liver (28)</text>
<line x1="293.90" y1="149.90" x2="293.90" y2="151.80" stroke="#666" stroke-width="0.9"/>
<text transform="translate(295.10,155.20) rotate(-90)" font-size="7.8" text-anchor="end" dominant-baseline="central" fill="#111" stroke="#111" stroke-width="0.3">Breast (58)</text>
<line x1="305.83" y1="149.90" x2="305.83" y2="151.80" stroke="#666" stroke-width="0.9"/>
<text transform="translate(307.16,155.20) rotate(-90)" font-size="7.8" text-anchor="end" dominant-baseline="central" fill="#111" stroke="#111" stroke-width="0.3">Osteosarcoma (10)</text>
<line x1="317.76" y1="149.90" x2="317.76" y2="151.80" stroke="#666" stroke-width="0.9"/>
<text transform="translate(319.22,155.20) rotate(-90)" font-size="7.8" text-anchor="end" dominant-baseline="central" fill="#111" stroke="#111" stroke-width="0.3">Pancreas (44)</text>
<line x1="329.69" y1="149.90" x2="329.69" y2="151.80" stroke="#666" stroke-width="0.9"/>
<text transform="translate(331.28,155.20) rotate(-90)" font-size="7.8" text-anchor="end" dominant-baseline="central" fill="#111" stroke="#111" stroke-width="0.3">Other (15)</text>
<line x1="341.62" y1="149.90" x2="341.62" y2="151.80" stroke="#666" stroke-width="0.9"/>
<text transform="translate(343.34,155.20) rotate(-90)" font-size="7.8" text-anchor="end" dominant-baseline="central" fill="#111" stroke="#111" stroke-width="0.3">Bile duct (8)</text>
<line x1="353.55" y1="149.90" x2="353.55" y2="151.80" stroke="#666" stroke-width="0.9"/>
<text transform="translate(355.40,155.20) rotate(-90)" font-size="7.8" text-anchor="end" dominant-baseline="central" fill="#111" stroke="#111" stroke-width="0.3">Lung NSC (131)</text>
<line x1="365.48" y1="149.90" x2="365.48" y2="151.80" stroke="#666" stroke-width="0.9"/>
<text transform="translate(367.46,155.20) rotate(-90)" font-size="7.8" text-anchor="end" dominant-baseline="central" fill="#111" stroke="#111" stroke-width="0.3">Endometrium (27)</text>
<line x1="377.41" y1="149.90" x2="377.41" y2="151.80" stroke="#666" stroke-width="0.9"/>
<text transform="translate(379.52,155.20) rotate(-90)" font-size="7.8" text-anchor="end" dominant-baseline="central" fill="#111" stroke="#111" stroke-width="0.3">Glioma (62)</text>
<line x1="389.34" y1="149.90" x2="389.34" y2="151.80" stroke="#666" stroke-width="0.9"/>
<text transform="translate(391.58,155.20) rotate(-90)" font-size="7.8" text-anchor="end" dominant-baseline="central" fill="#111" stroke="#111" stroke-width="0.3">Urinary tract (27)</text>
<line x1="401.27" y1="149.90" x2="401.27" y2="151.80" stroke="#666" stroke-width="0.9"/>
<text transform="translate(403.64,155.20) rotate(-90)" font-size="7.8" text-anchor="end" dominant-baseline="central" fill="#111" stroke="#111" stroke-width="0.3">Stomach (38)</text>
<line x1="413.20" y1="149.90" x2="413.20" y2="151.80" stroke="#666" stroke-width="0.9"/>
<text transform="translate(415.70,155.20) rotate(-90)" font-size="7.8" text-anchor="end" dominant-baseline="central" fill="#111" stroke="#111" stroke-width="0.3">Neuroblastoma (17)</text>
<line x1="425.13" y1="149.90" x2="425.13" y2="151.80" stroke="#666" stroke-width="0.9"/>
<text transform="translate(427.76,155.20) rotate(-90)" font-size="7.8" text-anchor="end" dominant-baseline="central" fill="#111" stroke="#111" stroke-width="0.3">Melanoma (61)</text>
<line x1="437.06" y1="149.90" x2="437.06" y2="151.80" stroke="#666" stroke-width="0.9"/>
<text transform="translate(439.82,155.20) rotate(-90)" font-size="7.8" text-anchor="end" dominant-baseline="central" fill="#111" stroke="#111" stroke-width="0.3">Lung small cell (53)</text>
<line x1="448.99" y1="149.90" x2="448.99" y2="151.80" stroke="#666" stroke-width="0.9"/>
<text transform="translate(451.88,155.20) rotate(-90)" font-size="7.8" text-anchor="end" dominant-baseline="central" fill="#111" stroke="#111" stroke-width="0.3">Colorectal (61)</text>
<line x1="460.92" y1="149.90" x2="460.92" y2="151.80" stroke="#666" stroke-width="0.9"/>
<text transform="translate(463.94,155.20) rotate(-90)" font-size="7.8" text-anchor="end" dominant-baseline="central" fill="#111" stroke="#111" stroke-width="0.3">Prostate (7)</text>
<line x1="472.85" y1="149.90" x2="472.85" y2="151.80" stroke="#666" stroke-width="0.9"/>
<text transform="translate(476.00,155.20) rotate(-90)" font-size="7.8" text-anchor="end" dominant-baseline="central" fill="#111" stroke="#111" stroke-width="0.3">Thyroid (12)</text>
<line x1="484.78" y1="149.90" x2="484.78" y2="151.80" stroke="#666" stroke-width="0.9"/>
<text transform="translate(488.06,155.20) rotate(-90)" font-size="7.8" text-anchor="end" dominant-baseline="central" fill="#111" stroke="#111" stroke-width="0.3">Chondrosarcoma (4)</text>
<text transform="translate(8.60,79.30) rotate(-90)" font-size="8.9" font-weight="bold" text-anchor="middle" fill="#111" stroke="#111" stroke-width="0.35"><tspan font-style="italic">IKZF1</tspan> RMA log2 expression</text>
<rect x="156.7" y="153.2" width="12.40" height="81.60" fill="none" stroke="#d04a3c" stroke-width="1.3"/>
<text x="0.8" y="9.6" font-size="12.1" font-weight="bold" fill="#000" stroke="#000" stroke-width="0.3">A</text>
<line x1="61.20" y1="257.80" x2="61.20" y2="300.50" stroke="#5a5a68" stroke-width="0.9" stroke-dasharray="1.4,1.3"/>
<line x1="58.60" y1="257.80" x2="63.80" y2="257.80" stroke="#5a5a68" stroke-width="0.95"/>
<line x1="61.20" y1="343.50" x2="61.20" y2="380.80" stroke="#5a5a68" stroke-width="0.9" stroke-dasharray="1.4,1.3"/>
<line x1="58.60" y1="380.80" x2="63.80" y2="380.80" stroke="#5a5a68" stroke-width="0.95"/>
<rect x="56.40" y="300.50" width="9.60" height="43.00" fill="#e02a22" stroke="#a11e18" stroke-width="0.9"/>
<line x1="56.40" y1="319.00" x2="66.00" y2="319.00" stroke="#490d0b" stroke-width="1.7"/>
<line x1="73.24" y1="305.80" x2="73.24" y2="320.10" stroke="#5a5a68" stroke-width="0.9" stroke-dasharray="1.4,1.3"/>
<line x1="70.64" y1="305.80" x2="75.84" y2="305.80" stroke="#5a5a68" stroke-width="0.95"/>
<line x1="73.24" y1="332.00" x2="73.24" y2="332.50" stroke="#5a5a68" stroke-width="0.9" stroke-dasharray="1.4,1.3"/>
<line x1="70.64" y1="332.50" x2="75.84" y2="332.50" stroke="#5a5a68" stroke-width="0.95"/>
<rect x="68.44" y="320.10" width="9.60" height="11.90" fill="#e04424" stroke="#a13019" stroke-width="0.9"/>
<line x1="68.44" y1="328.00" x2="78.04" y2="328.00" stroke="#49160b" stroke-width="1.7"/>
<circle cx="73.24" cy="355.90" r="1.65" fill="none" stroke="#6a6a6a" stroke-width="0.7"/>
<circle cx="73.24" cy="361.90" r="1.65" fill="none" stroke="#6a6a6a" stroke-width="0.7"/>
<line x1="85.28" y1="282.00" x2="85.28" y2="310.40" stroke="#5a5a68" stroke-width="0.9" stroke-dasharray="1.4,1.3"/>
<line x1="82.68" y1="282.00" x2="87.88" y2="282.00" stroke="#5a5a68" stroke-width="0.95"/>
<line x1="85.28" y1="356.30" x2="85.28" y2="378.10" stroke="#5a5a68" stroke-width="0.9" stroke-dasharray="1.4,1.3"/>
<line x1="82.68" y1="378.10" x2="87.88" y2="378.10" stroke="#5a5a68" stroke-width="0.95"/>
<rect x="80.48" y="310.40" width="9.60" height="45.90" fill="#e2682a" stroke="#a24a1e" stroke-width="0.9"/>
<line x1="80.48" y1="330.00" x2="90.08" y2="330.00" stroke="#4a220d" stroke-width="1.7"/>
<line x1="97.32" y1="289.30" x2="97.32" y2="310.40" stroke="#5a5a68" stroke-width="0.9" stroke-dasharray="1.4,1.3"/>
<line x1="94.72" y1="289.30" x2="99.92" y2="289.30" stroke="#5a5a68" stroke-width="0.95"/>
<line x1="97.32" y1="347.40" x2="97.32" y2="377.50" stroke="#5a5a68" stroke-width="0.9" stroke-dasharray="1.4,1.3"/>
<line x1="94.72" y1="377.50" x2="99.92" y2="377.50" stroke="#5a5a68" stroke-width="0.95"/>
<rect x="92.52" y="310.40" width="9.60" height="37.00" fill="#e88a2c" stroke="#a7631f" stroke-width="0.9"/>
<line x1="92.52" y1="332.50" x2="102.12" y2="332.50" stroke="#4c2d0e" stroke-width="1.7"/>
<line x1="109.36" y1="307.20" x2="109.36" y2="334.60" stroke="#5a5a68" stroke-width="0.9" stroke-dasharray="1.4,1.3"/>
<line x1="106.76" y1="307.20" x2="111.96" y2="307.20" stroke="#5a5a68" stroke-width="0.95"/>
<line x1="109.36" y1="378.50" x2="109.36" y2="381.20" stroke="#5a5a68" stroke-width="0.9" stroke-dasharray="1.4,1.3"/>
<line x1="106.76" y1="381.20" x2="111.96" y2="381.20" stroke="#5a5a68" stroke-width="0.95"/>
<rect x="104.56" y="334.60" width="9.60" height="43.90" fill="#f0b034" stroke="#ac7e25" stroke-width="0.9"/>
<line x1="104.56" y1="341.80" x2="114.16" y2="341.80" stroke="#4f3a11" stroke-width="1.7"/>
<line x1="121.40" y1="353.40" x2="121.40" y2="361.60" stroke="#5a5a68" stroke-width="0.9" stroke-dasharray="1.4,1.3"/>
<line x1="118.80" y1="353.40" x2="124.00" y2="353.40" stroke="#5a5a68" stroke-width="0.95"/>
<line x1="121.40" y1="377.30" x2="121.40" y2="379.80" stroke="#5a5a68" stroke-width="0.9" stroke-dasharray="1.4,1.3"/>
<line x1="118.80" y1="379.80" x2="124.00" y2="379.80" stroke="#5a5a68" stroke-width="0.95"/>
<rect x="116.60" y="361.60" width="9.60" height="15.70" fill="#f2c83a" stroke="#ae9029" stroke-width="0.9"/>
<line x1="116.60" y1="370.20" x2="126.20" y2="370.20" stroke="#4f4213" stroke-width="1.7"/>
<circle cx="121.40" cy="321.10" r="1.65" fill="none" stroke="#6a6a6a" stroke-width="0.7"/>
<line x1="133.44" y1="355.10" x2="133.44" y2="361.10" stroke="#5a5a68" stroke-width="0.9" stroke-dasharray="1.4,1.3"/>
<line x1="130.84" y1="355.10" x2="136.04" y2="355.10" stroke="#5a5a68" stroke-width="0.95"/>
<line x1="133.44" y1="375.10" x2="133.44" y2="381.30" stroke="#5a5a68" stroke-width="0.9" stroke-dasharray="1.4,1.3"/>
<line x1="130.84" y1="381.30" x2="136.04" y2="381.30" stroke="#5a5a68" stroke-width="0.95"/>
<rect x="128.64" y="361.10" width="9.60" height="14.00" fill="#f8e642" stroke="#b2a52f" stroke-width="0.9"/>
<line x1="128.64" y1="370.70" x2="138.24" y2="370.70" stroke="#514b15" stroke-width="1.7"/>
<circle cx="133.44" cy="296.90" r="1.65" fill="none" stroke="#6a6a6a" stroke-width="0.7"/>
<line x1="140.68" y1="370.70" x2="150.28" y2="370.70" stroke="#38385a" stroke-width="1.6"/>
<line x1="157.52" y1="357.60" x2="157.52" y2="366.40" stroke="#5a5a68" stroke-width="0.9" stroke-dasharray="1.4,1.3"/>
<line x1="154.92" y1="357.60" x2="160.12" y2="357.60" stroke="#5a5a68" stroke-width="0.95"/>
<line x1="157.52" y1="377.60" x2="157.52" y2="380.70" stroke="#5a5a68" stroke-width="0.9" stroke-dasharray="1.4,1.3"/>
<line x1="154.92" y1="380.70" x2="160.12" y2="380.70" stroke="#5a5a68" stroke-width="0.95"/>
<rect x="152.72" y="366.40" width="9.60" height="11.20" fill="#d0e844" stroke="#95a730" stroke-width="0.9"/>
<line x1="152.72" y1="373.50" x2="162.32" y2="373.50" stroke="#444c16" stroke-width="1.7"/>
<circle cx="157.52" cy="329.90" r="1.65" fill="none" stroke="#6a6a6a" stroke-width="0.7"/>
<line x1="169.56" y1="365.40" x2="169.56" y2="373.30" stroke="#5a5a68" stroke-width="0.9" stroke-dasharray="1.4,1.3"/>
<line x1="166.96" y1="365.40" x2="172.16" y2="365.40" stroke="#5a5a68" stroke-width="0.95"/>
<line x1="169.56" y1="379.40" x2="169.56" y2="381.50" stroke="#5a5a68" stroke-width="0.9" stroke-dasharray="1.4,1.3"/>
<line x1="166.96" y1="381.50" x2="172.16" y2="381.50" stroke="#5a5a68" stroke-width="0.95"/>
<rect x="164.76" y="373.30" width="9.60" height="6.10" fill="#b2e242" stroke="#80a22f" stroke-width="0.9"/>
<line x1="164.76" y1="376.30" x2="174.36" y2="376.30" stroke="#3a4a15" stroke-width="1.7"/>
<circle cx="169.56" cy="359.40" r="1.65" fill="none" stroke="#6a6a6a" stroke-width="0.7"/>
<circle cx="169.56" cy="360.90" r="1.65" fill="none" stroke="#6a6a6a" stroke-width="0.7"/>
<rect x="176.80" y="373.80" width="9.60" height="4.70" fill="#96dc3c" stroke="#6c9e2b" stroke-width="0.9"/>
<line x1="176.80" y1="376.20" x2="186.40" y2="376.20" stroke="#314813" stroke-width="1.7"/>
<line x1="193.64" y1="362.60" x2="193.64" y2="372.60" stroke="#5a5a68" stroke-width="0.9" stroke-dasharray="1.4,1.3"/>
<line x1="191.04" y1="362.60" x2="196.24" y2="362.60" stroke="#5a5a68" stroke-width="0.95"/>
<line x1="193.64" y1="380.80" x2="193.64" y2="384.20" stroke="#5a5a68" stroke-width="0.9" stroke-dasharray="1.4,1.3"/>
<line x1="191.04" y1="384.20" x2="196.24" y2="384.20" stroke="#5a5a68" stroke-width="0.95"/>
<rect x="188.84" y="372.60" width="9.60" height="8.20" fill="#86de42" stroke="#609f2f" stroke-width="0.9"/>
<line x1="188.84" y1="376.20" x2="198.44" y2="376.20" stroke="#2c4915" stroke-width="1.7"/>
<circle cx="193.64" cy="358.90" r="1.65" fill="none" stroke="#6a6a6a" stroke-width="0.7"/>
<line x1="205.68" y1="377.40" x2="205.68" y2="379.50" stroke="#5a5a68" stroke-width="0.9" stroke-dasharray="1.4,1.3"/>
<line x1="203.08" y1="379.50" x2="208.28" y2="379.50" stroke="#5a5a68" stroke-width="0.95"/>
<rect x="200.88" y="373.50" width="9.60" height="3.90" fill="#80d040" stroke="#5c952e" stroke-width="0.9"/>
<line x1="200.88" y1="375.40" x2="210.48" y2="375.40" stroke="#335319" stroke-width="1.35"/>
<line x1="217.72" y1="367.70" x2="217.72" y2="374.60" stroke="#5a5a68" stroke-width="0.9" stroke-dasharray="1.4,1.3"/>
<line x1="215.12" y1="367.70" x2="220.32" y2="367.70" stroke="#5a5a68" stroke-width="0.95"/>
<line x1="217.72" y1="380.50" x2="217.72" y2="383.10" stroke="#5a5a68" stroke-width="0.9" stroke-dasharray="1.4,1.3"/>
<line x1="215.12" y1="383.10" x2="220.32" y2="383.10" stroke="#5a5a68" stroke-width="0.95"/>
<rect x="212.92" y="374.60" width="9.60" height="5.90" fill="#70d042" stroke="#50952f" stroke-width="0.9"/>
<line x1="212.92" y1="378.00" x2="222.52" y2="378.00" stroke="#244415" stroke-width="1.7"/>
<circle cx="217.72" cy="363.40" r="1.65" fill="none" stroke="#6a6a6a" stroke-width="0.7"/>
<circle cx="217.72" cy="365.10" r="1.65" fill="none" stroke="#6a6a6a" stroke-width="0.7"/>
<line x1="229.76" y1="372.50" x2="229.76" y2="375.20" stroke="#5a5a68" stroke-width="0.9" stroke-dasharray="1.4,1.3"/>
<line x1="227.16" y1="372.50" x2="232.36" y2="372.50" stroke="#5a5a68" stroke-width="0.95"/>
<line x1="229.76" y1="379.40" x2="229.76" y2="383.00" stroke="#5a5a68" stroke-width="0.9" stroke-dasharray="1.4,1.3"/>
<line x1="227.16" y1="383.00" x2="232.36" y2="383.00" stroke="#5a5a68" stroke-width="0.95"/>
<rect x="224.96" y="375.20" width="9.60" height="4.20" fill="#62c848" stroke="#469033" stroke-width="0.9"/>
<line x1="224.96" y1="377.20" x2="234.56" y2="377.20" stroke="#27501c" stroke-width="1.35"/>
<circle cx="229.76" cy="307.20" r="1.65" fill="none" stroke="#6a6a6a" stroke-width="0.7"/>
<circle cx="229.76" cy="361.50" r="1.65" fill="none" stroke="#6a6a6a" stroke-width="0.7"/>
<circle cx="229.76" cy="368.40" r="1.65" fill="none" stroke="#6a6a6a" stroke-width="0.7"/>
<circle cx="229.76" cy="369.80" r="1.65" fill="none" stroke="#6a6a6a" stroke-width="0.7"/>
<circle cx="229.76" cy="386.20" r="1.65" fill="none" stroke="#6a6a6a" stroke-width="0.7"/>
<circle cx="229.76" cy="387.70" r="1.65" fill="none" stroke="#6a6a6a" stroke-width="0.7"/>
<line x1="241.80" y1="372.80" x2="241.80" y2="376.60" stroke="#5a5a68" stroke-width="0.9" stroke-dasharray="1.4,1.3"/>
<line x1="239.20" y1="372.80" x2="244.40" y2="372.80" stroke="#5a5a68" stroke-width="0.95"/>
<line x1="241.80" y1="380.50" x2="241.80" y2="383.80" stroke="#5a5a68" stroke-width="0.9" stroke-dasharray="1.4,1.3"/>
<line x1="239.20" y1="383.80" x2="244.40" y2="383.80" stroke="#5a5a68" stroke-width="0.95"/>
<rect x="237.00" y="376.60" width="9.60" height="3.90" fill="#62c86a" stroke="#46904c" stroke-width="0.9"/>
<line x1="237.00" y1="378.00" x2="246.60" y2="378.00" stroke="#27502a" stroke-width="1.35"/>
<circle cx="241.80" cy="370.40" r="1.65" fill="none" stroke="#6a6a6a" stroke-width="0.7"/>
<line x1="253.84" y1="371.20" x2="253.84" y2="374.60" stroke="#5a5a68" stroke-width="0.9" stroke-dasharray="1.4,1.3"/>
<line x1="251.24" y1="371.20" x2="256.44" y2="371.20" stroke="#5a5a68" stroke-width="0.95"/>
<line x1="253.84" y1="380.00" x2="253.84" y2="383.50" stroke="#5a5a68" stroke-width="0.9" stroke-dasharray="1.4,1.3"/>
<line x1="251.24" y1="383.50" x2="256.44" y2="383.50" stroke="#5a5a68" stroke-width="0.95"/>
<rect x="249.04" y="374.60" width="9.60" height="5.40" fill="#50c078" stroke="#398a56" stroke-width="0.9"/>
<line x1="249.04" y1="376.90" x2="258.64" y2="376.90" stroke="#1a3f27" stroke-width="1.7"/>
<circle cx="253.84" cy="363.70" r="1.65" fill="none" stroke="#6a6a6a" stroke-width="0.7"/>
<circle cx="253.84" cy="366.00" r="1.65" fill="none" stroke="#6a6a6a" stroke-width="0.7"/>
<line x1="265.88" y1="370.30" x2="265.88" y2="375.40" stroke="#5a5a68" stroke-width="0.9" stroke-dasharray="1.4,1.3"/>
<line x1="263.28" y1="370.30" x2="268.48" y2="370.30" stroke="#5a5a68" stroke-width="0.95"/>
<line x1="265.88" y1="380.50" x2="265.88" y2="383.10" stroke="#5a5a68" stroke-width="0.9" stroke-dasharray="1.4,1.3"/>
<line x1="263.28" y1="383.10" x2="268.48" y2="383.10" stroke="#5a5a68" stroke-width="0.95"/>
<rect x="261.08" y="375.40" width="9.60" height="5.10" fill="#58c0a0" stroke="#3f8a73" stroke-width="0.9"/>
<line x1="261.08" y1="377.70" x2="270.68" y2="377.70" stroke="#1d3f34" stroke-width="1.7"/>
<circle cx="265.88" cy="350.50" r="1.65" fill="none" stroke="#6a6a6a" stroke-width="0.7"/>
<line x1="277.92" y1="370.80" x2="277.92" y2="375.80" stroke="#5a5a68" stroke-width="0.9" stroke-dasharray="1.4,1.3"/>
<line x1="275.32" y1="370.80" x2="280.52" y2="370.80" stroke="#5a5a68" stroke-width="0.95"/>
<line x1="277.92" y1="380.50" x2="277.92" y2="384.20" stroke="#5a5a68" stroke-width="0.9" stroke-dasharray="1.4,1.3"/>
<line x1="275.32" y1="384.20" x2="280.52" y2="384.20" stroke="#5a5a68" stroke-width="0.95"/>
<rect x="273.12" y="375.80" width="9.60" height="4.70" fill="#50b0a8" stroke="#397e78" stroke-width="0.9"/>
<line x1="273.12" y1="378.00" x2="282.72" y2="378.00" stroke="#1a3a37" stroke-width="1.7"/>
<line x1="289.96" y1="381.50" x2="289.96" y2="383.10" stroke="#5a5a68" stroke-width="0.9" stroke-dasharray="1.4,1.3"/>
<line x1="287.36" y1="383.10" x2="292.56" y2="383.10" stroke="#5a5a68" stroke-width="0.95"/>
<rect x="285.16" y="375.40" width="9.60" height="6.10" fill="#48c4d8" stroke="#338d9b" stroke-width="0.9"/>
<line x1="285.16" y1="377.30" x2="294.76" y2="377.30" stroke="#174047" stroke-width="1.7"/>
<line x1="302.00" y1="373.40" x2="302.00" y2="375.70" stroke="#5a5a68" stroke-width="0.9" stroke-dasharray="1.4,1.3"/>
<line x1="299.40" y1="373.40" x2="304.60" y2="373.40" stroke="#5a5a68" stroke-width="0.95"/>
<line x1="302.00" y1="380.00" x2="302.00" y2="383.10" stroke="#5a5a68" stroke-width="0.9" stroke-dasharray="1.4,1.3"/>
<line x1="299.40" y1="383.10" x2="304.60" y2="383.10" stroke="#5a5a68" stroke-width="0.95"/>
<rect x="297.20" y="375.70" width="9.60" height="4.30" fill="#3890b8" stroke="#286784" stroke-width="0.9"/>
<line x1="297.20" y1="377.50" x2="306.80" y2="377.50" stroke="#122f3c" stroke-width="1.7"/>
<line x1="314.04" y1="373.80" x2="314.04" y2="376.50" stroke="#5a5a68" stroke-width="0.9" stroke-dasharray="1.4,1.3"/>
<line x1="311.44" y1="373.80" x2="316.64" y2="373.80" stroke="#5a5a68" stroke-width="0.95"/>
<line x1="314.04" y1="380.50" x2="314.04" y2="384.20" stroke="#5a5a68" stroke-width="0.9" stroke-dasharray="1.4,1.3"/>
<line x1="311.44" y1="384.20" x2="316.64" y2="384.20" stroke="#5a5a68" stroke-width="0.95"/>
<rect x="309.24" y="376.50" width="9.60" height="4.00" fill="#2858a8" stroke="#1c3f78" stroke-width="0.9"/>
<line x1="309.24" y1="378.50" x2="318.84" y2="378.50" stroke="#102343" stroke-width="1.35"/>
<circle cx="314.04" cy="370.30" r="1.65" fill="none" stroke="#6a6a6a" stroke-width="0.7"/>
<line x1="326.08" y1="373.10" x2="326.08" y2="376.20" stroke="#5a5a68" stroke-width="0.9" stroke-dasharray="1.4,1.3"/>
<line x1="323.48" y1="373.10" x2="328.68" y2="373.10" stroke="#5a5a68" stroke-width="0.95"/>
<line x1="326.08" y1="380.50" x2="326.08" y2="384.20" stroke="#5a5a68" stroke-width="0.9" stroke-dasharray="1.4,1.3"/>
<line x1="323.48" y1="384.20" x2="328.68" y2="384.20" stroke="#5a5a68" stroke-width="0.95"/>
<rect x="321.28" y="376.20" width="9.60" height="4.30" fill="#3058b8" stroke="#223f84" stroke-width="0.9"/>
<line x1="321.28" y1="378.40" x2="330.88" y2="378.40" stroke="#0f1d3c" stroke-width="1.7"/>
<line x1="338.12" y1="372.00" x2="338.12" y2="376.90" stroke="#5a5a68" stroke-width="0.9" stroke-dasharray="1.4,1.3"/>
<line x1="335.52" y1="372.00" x2="340.72" y2="372.00" stroke="#5a5a68" stroke-width="0.95"/>
<line x1="338.12" y1="381.50" x2="338.12" y2="386.20" stroke="#5a5a68" stroke-width="0.9" stroke-dasharray="1.4,1.3"/>
<line x1="335.52" y1="386.20" x2="340.72" y2="386.20" stroke="#5a5a68" stroke-width="0.95"/>
<rect x="333.32" y="376.90" width="9.60" height="4.60" fill="#3848c8" stroke="#283390" stroke-width="0.9"/>
<line x1="333.32" y1="379.20" x2="342.92" y2="379.20" stroke="#121742" stroke-width="1.7"/>
<line x1="350.16" y1="370.80" x2="350.16" y2="375.80" stroke="#5a5a68" stroke-width="0.9" stroke-dasharray="1.4,1.3"/>
<line x1="347.56" y1="370.80" x2="352.76" y2="370.80" stroke="#5a5a68" stroke-width="0.95"/>
<line x1="350.16" y1="380.80" x2="350.16" y2="385.70" stroke="#5a5a68" stroke-width="0.9" stroke-dasharray="1.4,1.3"/>
<line x1="347.56" y1="385.70" x2="352.76" y2="385.70" stroke="#5a5a68" stroke-width="0.95"/>
<rect x="345.36" y="375.80" width="9.60" height="5.00" fill="#2a3ac0" stroke="#1e298a" stroke-width="0.9"/>
<line x1="345.36" y1="378.50" x2="354.96" y2="378.50" stroke="#0d133f" stroke-width="1.7"/>
<circle cx="350.16" cy="357.40" r="1.65" fill="none" stroke="#6a6a6a" stroke-width="0.7"/>
<circle cx="350.16" cy="362.00" r="1.65" fill="none" stroke="#6a6a6a" stroke-width="0.7"/>
<circle cx="350.16" cy="366.90" r="1.65" fill="none" stroke="#6a6a6a" stroke-width="0.7"/>
<circle cx="350.16" cy="368.50" r="1.65" fill="none" stroke="#6a6a6a" stroke-width="0.7"/>
<line x1="362.20" y1="373.80" x2="362.20" y2="376.60" stroke="#5a5a68" stroke-width="0.9" stroke-dasharray="1.4,1.3"/>
<line x1="359.60" y1="373.80" x2="364.80" y2="373.80" stroke="#5a5a68" stroke-width="0.95"/>
<line x1="362.20" y1="380.80" x2="362.20" y2="383.00" stroke="#5a5a68" stroke-width="0.9" stroke-dasharray="1.4,1.3"/>
<line x1="359.60" y1="383.00" x2="364.80" y2="383.00" stroke="#5a5a68" stroke-width="0.95"/>
<rect x="357.40" y="376.60" width="9.60" height="4.20" fill="#2434b2" stroke="#192580" stroke-width="0.9"/>
<line x1="357.40" y1="378.70" x2="367.00" y2="378.70" stroke="#0e1447" stroke-width="1.35"/>
<circle cx="362.20" cy="368.20" r="1.65" fill="none" stroke="#6a6a6a" stroke-width="0.7"/>
<circle cx="362.20" cy="386.60" r="1.65" fill="none" stroke="#6a6a6a" stroke-width="0.7"/>
<line x1="374.24" y1="371.20" x2="374.24" y2="375.40" stroke="#5a5a68" stroke-width="0.9" stroke-dasharray="1.4,1.3"/>
<line x1="371.64" y1="371.20" x2="376.84" y2="371.20" stroke="#5a5a68" stroke-width="0.95"/>
<line x1="374.24" y1="380.00" x2="374.24" y2="382.30" stroke="#5a5a68" stroke-width="0.9" stroke-dasharray="1.4,1.3"/>
<line x1="371.64" y1="382.30" x2="376.84" y2="382.30" stroke="#5a5a68" stroke-width="0.95"/>
<rect x="369.44" y="375.40" width="9.60" height="4.60" fill="#4444e4" stroke="#3030a4" stroke-width="0.9"/>
<line x1="369.44" y1="377.70" x2="379.04" y2="377.70" stroke="#16164b" stroke-width="1.7"/>
<line x1="386.28" y1="369.20" x2="386.28" y2="374.90" stroke="#5a5a68" stroke-width="0.9" stroke-dasharray="1.4,1.3"/>
<line x1="383.68" y1="369.20" x2="388.88" y2="369.20" stroke="#5a5a68" stroke-width="0.95"/>
<line x1="386.28" y1="380.50" x2="386.28" y2="383.50" stroke="#5a5a68" stroke-width="0.9" stroke-dasharray="1.4,1.3"/>
<line x1="383.68" y1="383.50" x2="388.88" y2="383.50" stroke="#5a5a68" stroke-width="0.95"/>
<rect x="381.48" y="374.90" width="9.60" height="5.60" fill="#5444f0" stroke="#3c30ac" stroke-width="0.9"/>
<line x1="381.48" y1="377.70" x2="391.08" y2="377.70" stroke="#1b164f" stroke-width="1.7"/>
<line x1="398.32" y1="373.00" x2="398.32" y2="376.90" stroke="#5a5a68" stroke-width="0.9" stroke-dasharray="1.4,1.3"/>
<line x1="395.72" y1="373.00" x2="400.92" y2="373.00" stroke="#5a5a68" stroke-width="0.95"/>
<line x1="398.32" y1="380.50" x2="398.32" y2="383.50" stroke="#5a5a68" stroke-width="0.9" stroke-dasharray="1.4,1.3"/>
<line x1="395.72" y1="383.50" x2="400.92" y2="383.50" stroke="#5a5a68" stroke-width="0.95"/>
<rect x="393.52" y="376.90" width="9.60" height="3.60" fill="#322292" stroke="#241869" stroke-width="0.9"/>
<line x1="393.52" y1="378.50" x2="403.12" y2="378.50" stroke="#140d3a" stroke-width="1.35"/>
<circle cx="398.32" cy="369.20" r="1.65" fill="none" stroke="#6a6a6a" stroke-width="0.7"/>
<circle cx="398.32" cy="371.20" r="1.65" fill="none" stroke="#6a6a6a" stroke-width="0.7"/>
<line x1="410.36" y1="374.30" x2="410.36" y2="376.90" stroke="#5a5a68" stroke-width="0.9" stroke-dasharray="1.4,1.3"/>
<line x1="407.76" y1="374.30" x2="412.96" y2="374.30" stroke="#5a5a68" stroke-width="0.95"/>
<line x1="410.36" y1="380.80" x2="410.36" y2="382.30" stroke="#5a5a68" stroke-width="0.9" stroke-dasharray="1.4,1.3"/>
<line x1="407.76" y1="382.30" x2="412.96" y2="382.30" stroke="#5a5a68" stroke-width="0.95"/>
<rect x="405.56" y="376.90" width="9.60" height="3.90" fill="#6242c2" stroke="#462f8b" stroke-width="0.9"/>
<line x1="405.56" y1="378.80" x2="415.16" y2="378.80" stroke="#271a4d" stroke-width="1.35"/>
<line x1="422.40" y1="374.30" x2="422.40" y2="375.80" stroke="#5a5a68" stroke-width="0.9" stroke-dasharray="1.4,1.3"/>
<line x1="419.80" y1="374.30" x2="425.00" y2="374.30" stroke="#5a5a68" stroke-width="0.95"/>
<line x1="422.40" y1="380.00" x2="422.40" y2="382.30" stroke="#5a5a68" stroke-width="0.9" stroke-dasharray="1.4,1.3"/>
<line x1="419.80" y1="382.30" x2="425.00" y2="382.30" stroke="#5a5a68" stroke-width="0.95"/>
<rect x="417.60" y="375.80" width="9.60" height="4.20" fill="#8232b2" stroke="#5d2480" stroke-width="0.9"/>
<line x1="417.60" y1="377.70" x2="427.20" y2="377.70" stroke="#341447" stroke-width="1.35"/>
<line x1="434.44" y1="375.70" x2="434.44" y2="378.30" stroke="#5a5a68" stroke-width="0.9" stroke-dasharray="1.4,1.3"/>
<line x1="431.84" y1="375.70" x2="437.04" y2="375.70" stroke="#5a5a68" stroke-width="0.95"/>
<line x1="434.44" y1="379.50" x2="434.44" y2="380.00" stroke="#5a5a68" stroke-width="0.9" stroke-dasharray="1.4,1.3"/>
<line x1="431.84" y1="380.00" x2="437.04" y2="380.00" stroke="#5a5a68" stroke-width="0.95"/>
<rect x="429.64" y="378.30" width="9.60" height="1.20" fill="#320a22" stroke="#240718" stroke-width="0.9"/>
<line x1="429.64" y1="378.90" x2="439.24" y2="378.90" stroke="#14040d" stroke-width="1.35"/>
<circle cx="434.44" cy="385.40" r="1.65" fill="none" stroke="#6a6a6a" stroke-width="0.7"/>
<line x1="446.48" y1="372.50" x2="446.48" y2="377.40" stroke="#5a5a68" stroke-width="0.9" stroke-dasharray="1.4,1.3"/>
<line x1="443.88" y1="372.50" x2="449.08" y2="372.50" stroke="#5a5a68" stroke-width="0.95"/>
<line x1="446.48" y1="381.20" x2="446.48" y2="383.80" stroke="#5a5a68" stroke-width="0.9" stroke-dasharray="1.4,1.3"/>
<line x1="443.88" y1="383.80" x2="449.08" y2="383.80" stroke="#5a5a68" stroke-width="0.95"/>
<rect x="441.68" y="377.40" width="9.60" height="3.80" fill="#922292" stroke="#691869" stroke-width="0.9"/>
<line x1="441.68" y1="379.20" x2="451.28" y2="379.20" stroke="#3a0d3a" stroke-width="1.35"/>
<line x1="458.52" y1="371.50" x2="458.52" y2="376.90" stroke="#5a5a68" stroke-width="0.9" stroke-dasharray="1.4,1.3"/>
<line x1="455.92" y1="371.50" x2="461.12" y2="371.50" stroke="#5a5a68" stroke-width="0.95"/>
<line x1="458.52" y1="381.50" x2="458.52" y2="385.40" stroke="#5a5a68" stroke-width="0.9" stroke-dasharray="1.4,1.3"/>
<line x1="455.92" y1="385.40" x2="461.12" y2="385.40" stroke="#5a5a68" stroke-width="0.95"/>
<rect x="453.72" y="376.90" width="9.60" height="4.60" fill="#a22282" stroke="#74185d" stroke-width="0.9"/>
<line x1="453.72" y1="379.20" x2="463.32" y2="379.20" stroke="#350b2a" stroke-width="1.7"/>
<circle cx="458.52" cy="345.10" r="1.65" fill="none" stroke="#6a6a6a" stroke-width="0.7"/>
<line x1="470.56" y1="374.60" x2="470.56" y2="378.20" stroke="#5a5a68" stroke-width="0.9" stroke-dasharray="1.4,1.3"/>
<line x1="467.96" y1="374.60" x2="473.16" y2="374.60" stroke="#5a5a68" stroke-width="0.95"/>
<line x1="470.56" y1="381.50" x2="470.56" y2="384.60" stroke="#5a5a68" stroke-width="0.9" stroke-dasharray="1.4,1.3"/>
<line x1="467.96" y1="384.60" x2="473.16" y2="384.60" stroke="#5a5a68" stroke-width="0.95"/>
<rect x="465.76" y="378.20" width="9.60" height="3.30" fill="#c22262" stroke="#8b1846" stroke-width="0.9"/>
<line x1="465.76" y1="379.80" x2="475.36" y2="379.80" stroke="#4d0d27" stroke-width="1.35"/>
<circle cx="470.56" cy="372.60" r="1.65" fill="none" stroke="#6a6a6a" stroke-width="0.7"/>
<line x1="482.60" y1="375.00" x2="482.60" y2="376.90" stroke="#5a5a68" stroke-width="0.9" stroke-dasharray="1.4,1.3"/>
<line x1="480.00" y1="375.00" x2="485.20" y2="375.00" stroke="#5a5a68" stroke-width="0.95"/>
<line x1="482.60" y1="380.30" x2="482.60" y2="381.00" stroke="#5a5a68" stroke-width="0.9" stroke-dasharray="1.4,1.3"/>
<line x1="480.00" y1="381.00" x2="485.20" y2="381.00" stroke="#5a5a68" stroke-width="0.95"/>
<rect x="477.80" y="376.90" width="9.60" height="3.40" fill="#c22252" stroke="#8b183b" stroke-width="0.9"/>
<line x1="477.80" y1="378.50" x2="487.40" y2="378.50" stroke="#4d0d20" stroke-width="1.35"/>
<circle cx="482.60" cy="368.50" r="1.65" fill="none" stroke="#6a6a6a" stroke-width="0.7"/>
<line x1="494.64" y1="376.60" x2="494.64" y2="378.90" stroke="#5a5a68" stroke-width="0.9" stroke-dasharray="1.4,1.3"/>
<line x1="492.04" y1="376.60" x2="497.24" y2="376.60" stroke="#5a5a68" stroke-width="0.95"/>
<line x1="494.64" y1="381.50" x2="494.64" y2="382.00" stroke="#5a5a68" stroke-width="0.9" stroke-dasharray="1.4,1.3"/>
<line x1="492.04" y1="382.00" x2="497.24" y2="382.00" stroke="#5a5a68" stroke-width="0.95"/>
<rect x="489.84" y="378.90" width="9.60" height="2.60" fill="#5a1222" stroke="#400c18" stroke-width="0.9"/>
<line x1="489.84" y1="380.20" x2="499.44" y2="380.20" stroke="#24070d" stroke-width="1.35"/>
<circle cx="494.64" cy="383.80" r="1.65" fill="none" stroke="#6a6a6a" stroke-width="0.7"/>
<circle cx="494.64" cy="385.70" r="1.65" fill="none" stroke="#6a6a6a" stroke-width="0.7"/>
<line x1="36.85" y1="253.1" x2="518.65" y2="253.1" stroke="#a8a8a8" stroke-width="1.1"/>
<line x1="36.85" y1="392.4" x2="518.65" y2="392.4" stroke="#a8a8a8" stroke-width="1.1"/>
<line x1="37.4" y1="253.1" x2="37.4" y2="392.4" stroke="#858585" stroke-width="1.1"/>
<line x1="518.1" y1="253.1" x2="518.1" y2="392.4" stroke="#858585" stroke-width="1.1"/>
<line x1="33.40" y1="392.50" x2="37.40" y2="392.50" stroke="#707070" stroke-width="0.9"/>
<text x="29.80" y="392.50" font-size="5.8" text-anchor="end" dominant-baseline="central" fill="#333" stroke="#333" stroke-width="0.15">3</text>
<line x1="33.40" y1="373.47" x2="37.40" y2="373.47" stroke="#707070" stroke-width="0.9"/>
<text x="29.80" y="373.47" font-size="5.8" text-anchor="end" dominant-baseline="central" fill="#333" stroke="#333" stroke-width="0.15">4</text>
<line x1="33.40" y1="354.44" x2="37.40" y2="354.44" stroke="#707070" stroke-width="0.9"/>
<text x="29.80" y="354.44" font-size="5.8" text-anchor="end" dominant-baseline="central" fill="#333" stroke="#333" stroke-width="0.15">5</text>
<line x1="33.40" y1="335.41" x2="37.40" y2="335.41" stroke="#707070" stroke-width="0.9"/>
<text x="29.80" y="335.41" font-size="5.8" text-anchor="end" dominant-baseline="central" fill="#333" stroke="#333" stroke-width="0.15">6</text>
<line x1="33.40" y1="316.39" x2="37.40" y2="316.39" stroke="#707070" stroke-width="0.9"/>
<text x="29.80" y="316.39" font-size="5.8" text-anchor="end" dominant-baseline="central" fill="#333" stroke="#333" stroke-width="0.15">7</text>
<line x1="33.40" y1="297.36" x2="37.40" y2="297.36" stroke="#707070" stroke-width="0.9"/>
<text x="29.80" y="297.36" font-size="5.8" text-anchor="end" dominant-baseline="central" fill="#333" stroke="#333" stroke-width="0.15">8</text>
<line x1="33.40" y1="278.33" x2="37.40" y2="278.33" stroke="#707070" stroke-width="0.9"/>
<text x="29.80" y="278.33" font-size="5.8" text-anchor="end" dominant-baseline="central" fill="#333" stroke="#333" stroke-width="0.15">9</text>
<line x1="33.40" y1="259.30" x2="37.40" y2="259.30" stroke="#707070" stroke-width="0.9"/>
<text x="29.80" y="259.30" font-size="5.8" text-anchor="end" dominant-baseline="central" fill="#333" stroke="#333" stroke-width="0.15">10</text>
<line x1="61.20" y1="392.40" x2="61.20" y2="394.30" stroke="#666" stroke-width="0.9"/>
<text transform="translate(60.70,396.90) rotate(-90)" font-size="7.8" text-anchor="end" dominant-baseline="central" fill="#111" stroke="#111" stroke-width="0.3">DLBCL (18)</text>
<line x1="73.24" y1="392.40" x2="73.24" y2="394.30" stroke="#666" stroke-width="0.9"/>
<text transform="translate(72.74,396.90) rotate(-90)" font-size="7.8" text-anchor="end" dominant-baseline="central" fill="#111" stroke="#111" stroke-width="0.3">Burkitt (11)</text>
<line x1="85.28" y1="392.40" x2="85.28" y2="394.30" stroke="#666" stroke-width="0.9"/>
<text transform="translate(84.78,396.90) rotate(-90)" font-size="7.8" text-anchor="end" dominant-baseline="central" fill="#111" stroke="#111" stroke-width="0.3">Lymphoma other (28)</text>
<line x1="97.32" y1="392.40" x2="97.32" y2="394.30" stroke="#666" stroke-width="0.9"/>
<text transform="translate(96.82,396.90) rotate(-90)" font-size="7.8" text-anchor="end" dominant-baseline="central" fill="#111" stroke="#111" stroke-width="0.3">Multiple myeloma (30)</text>
<line x1="109.36" y1="392.40" x2="109.36" y2="394.30" stroke="#666" stroke-width="0.9"/>
<text transform="translate(108.86,396.90) rotate(-90)" font-size="7.8" text-anchor="end" dominant-baseline="central" fill="#111" stroke="#111" stroke-width="0.3">Hodgkin (12)</text>
<line x1="121.40" y1="392.40" x2="121.40" y2="394.30" stroke="#666" stroke-width="0.9"/>
<text transform="translate(120.90,396.90) rotate(-90)" font-size="7.8" text-anchor="end" dominant-baseline="central" fill="#111" stroke="#111" stroke-width="0.3">T-cell ALL (16)</text>
<line x1="133.44" y1="392.40" x2="133.44" y2="394.30" stroke="#666" stroke-width="0.9"/>
<text transform="translate(132.94,396.90) rotate(-90)" font-size="7.8" text-anchor="end" dominant-baseline="central" fill="#111" stroke="#111" stroke-width="0.3">B-cell ALL (15)</text>
<line x1="145.48" y1="392.40" x2="145.48" y2="394.30" stroke="#666" stroke-width="0.9"/>
<text transform="translate(144.98,396.90) rotate(-90)" font-size="7.8" text-anchor="end" dominant-baseline="central" fill="#111" stroke="#111" stroke-width="0.3">Leukemia other (1)</text>
<line x1="157.52" y1="392.40" x2="157.52" y2="394.30" stroke="#666" stroke-width="0.9"/>
<text transform="translate(157.02,396.90) rotate(-90)" font-size="7.8" text-anchor="end" dominant-baseline="central" fill="#111" stroke="#111" stroke-width="0.3">CML (15)</text>
<line x1="169.56" y1="392.40" x2="169.56" y2="394.30" stroke="#666" stroke-width="0.9"/>
<text transform="translate(169.06,396.90) rotate(-90)" font-size="7.8" text-anchor="end" dominant-baseline="central" fill="#111" stroke="#111" stroke-width="0.3">AML (34)</text>
<line x1="181.60" y1="392.40" x2="181.60" y2="394.30" stroke="#666" stroke-width="0.9"/>
<text transform="translate(181.10,396.90) rotate(-90)" font-size="7.8" text-anchor="end" dominant-baseline="central" fill="#111" stroke="#111" stroke-width="0.3">Medulloblastoma (4)</text>
<line x1="193.64" y1="392.40" x2="193.64" y2="394.30" stroke="#666" stroke-width="0.9"/>
<text transform="translate(193.14,396.90) rotate(-90)" font-size="7.8" text-anchor="end" dominant-baseline="central" fill="#111" stroke="#111" stroke-width="0.3">Stomach (38)</text>
<line x1="205.68" y1="392.40" x2="205.68" y2="394.30" stroke="#666" stroke-width="0.9"/>
<text transform="translate(205.18,396.90) rotate(-90)" font-size="7.8" text-anchor="end" dominant-baseline="central" fill="#111" stroke="#111" stroke-width="0.3">Bile duct (8)</text>
<line x1="217.72" y1="392.40" x2="217.72" y2="394.30" stroke="#666" stroke-width="0.9"/>
<text transform="translate(217.22,396.90) rotate(-90)" font-size="7.8" text-anchor="end" dominant-baseline="central" fill="#111" stroke="#111" stroke-width="0.3">Colorectal (61)</text>
<line x1="229.76" y1="392.40" x2="229.76" y2="394.30" stroke="#666" stroke-width="0.9"/>
<text transform="translate(229.26,396.90) rotate(-90)" font-size="7.8" text-anchor="end" dominant-baseline="central" fill="#111" stroke="#111" stroke-width="0.3">Breast (58)</text>
<line x1="241.80" y1="392.40" x2="241.80" y2="394.30" stroke="#666" stroke-width="0.9"/>
<text transform="translate(241.30,396.90) rotate(-90)" font-size="7.8" text-anchor="end" dominant-baseline="central" fill="#111" stroke="#111" stroke-width="0.3">Pancreas (44)</text>
<line x1="253.84" y1="392.40" x2="253.84" y2="394.30" stroke="#666" stroke-width="0.9"/>
<text transform="translate(253.34,396.90) rotate(-90)" font-size="7.8" text-anchor="end" dominant-baseline="central" fill="#111" stroke="#111" stroke-width="0.3">Urinary tract (27)</text>
<line x1="265.88" y1="392.40" x2="265.88" y2="394.30" stroke="#666" stroke-width="0.9"/>
<text transform="translate(265.38,396.90) rotate(-90)" font-size="7.8" text-anchor="end" dominant-baseline="central" fill="#111" stroke="#111" stroke-width="0.3">Lung small cell (53)</text>
<line x1="277.92" y1="392.40" x2="277.92" y2="394.30" stroke="#666" stroke-width="0.9"/>
<text transform="translate(277.42,396.90) rotate(-90)" font-size="7.8" text-anchor="end" dominant-baseline="central" fill="#111" stroke="#111" stroke-width="0.3">Esophagus (25)</text>
<line x1="289.96" y1="392.40" x2="289.96" y2="394.30" stroke="#666" stroke-width="0.9"/>
<text transform="translate(289.46,396.90) rotate(-90)" font-size="7.8" text-anchor="end" dominant-baseline="central" fill="#111" stroke="#111" stroke-width="0.3">Chondrosarcoma (4)</text>
<line x1="302.00" y1="392.40" x2="302.00" y2="394.30" stroke="#666" stroke-width="0.9"/>
<text transform="translate(301.50,396.90) rotate(-90)" font-size="7.8" text-anchor="end" dominant-baseline="central" fill="#111" stroke="#111" stroke-width="0.3">Osteosarcoma (10)</text>
<line x1="314.04" y1="392.40" x2="314.04" y2="394.30" stroke="#666" stroke-width="0.9"/>
<text transform="translate(313.54,396.90) rotate(-90)" font-size="7.8" text-anchor="end" dominant-baseline="central" fill="#111" stroke="#111" stroke-width="0.3">Upper aerodigestive (32)</text>
<line x1="326.08" y1="392.40" x2="326.08" y2="394.30" stroke="#666" stroke-width="0.9"/>
<text transform="translate(325.58,396.90) rotate(-90)" font-size="7.8" text-anchor="end" dominant-baseline="central" fill="#111" stroke="#111" stroke-width="0.3">Melanoma (61)</text>
<line x1="338.12" y1="392.40" x2="338.12" y2="394.30" stroke="#666" stroke-width="0.9"/>
<text transform="translate(337.62,396.90) rotate(-90)" font-size="7.8" text-anchor="end" dominant-baseline="central" fill="#111" stroke="#111" stroke-width="0.3">Ovary (51)</text>
<line x1="350.16" y1="392.40" x2="350.16" y2="394.30" stroke="#666" stroke-width="0.9"/>
<text transform="translate(349.66,396.90) rotate(-90)" font-size="7.8" text-anchor="end" dominant-baseline="central" fill="#111" stroke="#111" stroke-width="0.3">Lung NSC (131)</text>
<line x1="362.20" y1="392.40" x2="362.20" y2="394.30" stroke="#666" stroke-width="0.9"/>
<text transform="translate(361.70,396.90) rotate(-90)" font-size="7.8" text-anchor="end" dominant-baseline="central" fill="#111" stroke="#111" stroke-width="0.3">Other (15)</text>
<line x1="374.24" y1="392.40" x2="374.24" y2="394.30" stroke="#666" stroke-width="0.9"/>
<text transform="translate(373.74,396.90) rotate(-90)" font-size="7.8" text-anchor="end" dominant-baseline="central" fill="#111" stroke="#111" stroke-width="0.3">Liver (28)</text>
<line x1="386.28" y1="392.40" x2="386.28" y2="394.30" stroke="#666" stroke-width="0.9"/>
<text transform="translate(385.78,396.90) rotate(-90)" font-size="7.8" text-anchor="end" dominant-baseline="central" fill="#111" stroke="#111" stroke-width="0.3">Neuroblastoma (17)</text>
<line x1="398.32" y1="392.40" x2="398.32" y2="394.30" stroke="#666" stroke-width="0.9"/>
<text transform="translate(397.82,396.90) rotate(-90)" font-size="7.8" text-anchor="end" dominant-baseline="central" fill="#111" stroke="#111" stroke-width="0.3">Kidney (34)</text>
<line x1="410.36" y1="392.40" x2="410.36" y2="394.30" stroke="#666" stroke-width="0.9"/>
<text transform="translate(409.86,396.90) rotate(-90)" font-size="7.8" text-anchor="end" dominant-baseline="central" fill="#111" stroke="#111" stroke-width="0.3">Meningioma (3)</text>
<line x1="422.40" y1="392.40" x2="422.40" y2="394.30" stroke="#666" stroke-width="0.9"/>
<text transform="translate(421.90,396.90) rotate(-90)" font-size="7.8" text-anchor="end" dominant-baseline="central" fill="#111" stroke="#111" stroke-width="0.3">Ewing&#39;s Sarcoma (12)</text>
<line x1="434.44" y1="392.40" x2="434.44" y2="394.30" stroke="#666" stroke-width="0.9"/>
<text transform="translate(433.94,396.90) rotate(-90)" font-size="7.8" text-anchor="end" dominant-baseline="central" fill="#111" stroke="#111" stroke-width="0.3">Prostate (7)</text>
<line x1="446.48" y1="392.40" x2="446.48" y2="394.30" stroke="#666" stroke-width="0.9"/>
<text transform="translate(445.98,396.90) rotate(-90)" font-size="7.8" text-anchor="end" dominant-baseline="central" fill="#111" stroke="#111" stroke-width="0.3">Soft tissue (21)</text>
<line x1="458.52" y1="392.40" x2="458.52" y2="394.30" stroke="#666" stroke-width="0.9"/>
<text transform="translate(458.02,396.90) rotate(-90)" font-size="7.8" text-anchor="end" dominant-baseline="central" fill="#111" stroke="#111" stroke-width="0.3">Endometrium (27)</text>
<line x1="470.56" y1="392.40" x2="470.56" y2="394.30" stroke="#666" stroke-width="0.9"/>
<text transform="translate(470.06,396.90) rotate(-90)" font-size="7.8" text-anchor="end" dominant-baseline="central" fill="#111" stroke="#111" stroke-width="0.3">Glioma (62)</text>
<line x1="482.60" y1="392.40" x2="482.60" y2="394.30" stroke="#666" stroke-width="0.9"/>
<text transform="translate(482.10,396.90) rotate(-90)" font-size="7.8" text-anchor="end" dominant-baseline="central" fill="#111" stroke="#111" stroke-width="0.3">Thyroid (12)</text>
<line x1="494.64" y1="392.40" x2="494.64" y2="394.30" stroke="#666" stroke-width="0.9"/>
<text transform="translate(494.14,396.90) rotate(-90)" font-size="7.8" text-anchor="end" dominant-baseline="central" fill="#111" stroke="#111" stroke-width="0.3">Mesothelioma (11)</text>
<text transform="translate(14.90,324.00) rotate(-90)" font-size="8.9" font-weight="bold" text-anchor="middle" fill="#111" stroke="#111" stroke-width="0.35"><tspan font-style="italic">IKZF3</tspan> RMA log2 expression</text>
<rect x="89.7" y="393.1" width="13.00" height="80.30" fill="none" stroke="#d04a3c" stroke-width="1.3"/>
<text x="0.4" y="253.0" font-size="12.1" font-weight="bold" fill="#000" stroke="#000" stroke-width="0.3">B</text>
</svg>
</body></html>
